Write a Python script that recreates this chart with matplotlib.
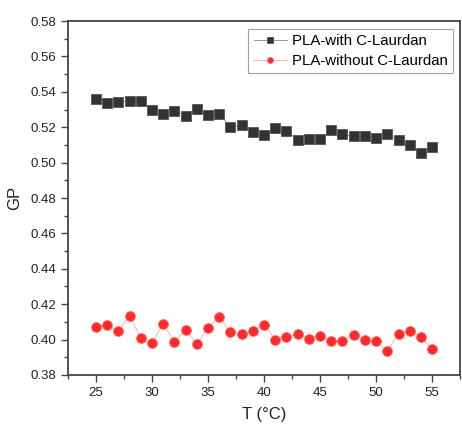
import matplotlib
matplotlib.use("Agg")
import matplotlib.pyplot as plt
from matplotlib.ticker import MultipleLocator

plt.rcParams['font.family'] = ['Liberation Sans', 'DejaVu Sans']

# Temperatura (°C)
temp = list(range(25, 56))

# GP con C-Laurdan
gp_con = [0.536, 0.5336, 0.5343, 0.5351, 0.535, 0.5299, 0.5275, 0.5292, 0.5264, 0.5303,
          0.5268, 0.5275, 0.520, 0.5211, 0.5173, 0.5154, 0.5194, 0.5179, 0.5130, 0.5134,
          0.5134, 0.5182, 0.5161, 0.5148, 0.515, 0.5141, 0.516, 0.513, 0.5099, 0.5056,
          0.5088]

# GP sin C-Laurdan
gp_sin = [0.4073, 0.4085, 0.4047, 0.4136, 0.4007, 0.3981, 0.4087, 0.3989, 0.4053, 0.3974,
          0.4068, 0.4126, 0.4041, 0.4032, 0.4047, 0.4085, 0.4000, 0.4013, 0.4030, 0.4006,
          0.4023, 0.3993, 0.3993, 0.4027, 0.4000, 0.3990, 0.3936, 0.4034, 0.4047, 0.4013,
          0.3945]

fig = plt.figure(figsize=(4.62, 4.30), dpi=100)
ax = fig.add_axes([0.147, 0.128, 0.849, 0.823])

ax.plot(temp, gp_con, color='#9a9a9a', linewidth=0.7, marker='s', markersize=6.5,
        markerfacecolor='#333333', markeredgecolor='#555555', markeredgewidth=0.6,
        label='PLA-with C-Laurdan')
ax.plot(temp, gp_sin, color='#ffb0b0', linewidth=0.7, marker='o', markersize=7,
        markerfacecolor='#ff2a2a', markeredgecolor='#ff5a5a', markeredgewidth=0.6,
        label='PLA-without C-Laurdan')

ax.set_xlim(22.5, 57.5)
ax.set_ylim(0.38, 0.58)
ax.xaxis.set_major_locator(MultipleLocator(5))
ax.xaxis.set_minor_locator(MultipleLocator(2.5))
ax.yaxis.set_major_locator(MultipleLocator(0.02))
ax.yaxis.set_minor_locator(MultipleLocator(0.01))
ax.yaxis.set_major_formatter(matplotlib.ticker.FormatStrFormatter('%.2f'))

ax.tick_params(which='major', direction='out', length=5, width=1, color='#444444',
               labelsize=9.5, labelcolor='#222222')
ax.tick_params(which='minor', direction='out', length=3, width=1, color='#444444')
for s in ax.spines.values():
    s.set_color('#444444')
    s.set_linewidth(1.3)

ax.set_xlabel('T (°C)', fontsize=12, color='#222222', labelpad=6)
ax.set_ylabel('GP', fontsize=12, color='#222222', labelpad=6)

leg = ax.legend(loc='upper right', fontsize=10.8, frameon=True, fancybox=False,
                edgecolor='#888888', handlelength=2.2, handletextpad=0.35,
                borderpad=0.35, labelspacing=0.4, markerscale=0.6,
                borderaxespad=0, bbox_to_anchor=(0.982, 0.978))
leg.get_frame().set_linewidth(0.8)

plt.savefig("out.png", dpi=100)
